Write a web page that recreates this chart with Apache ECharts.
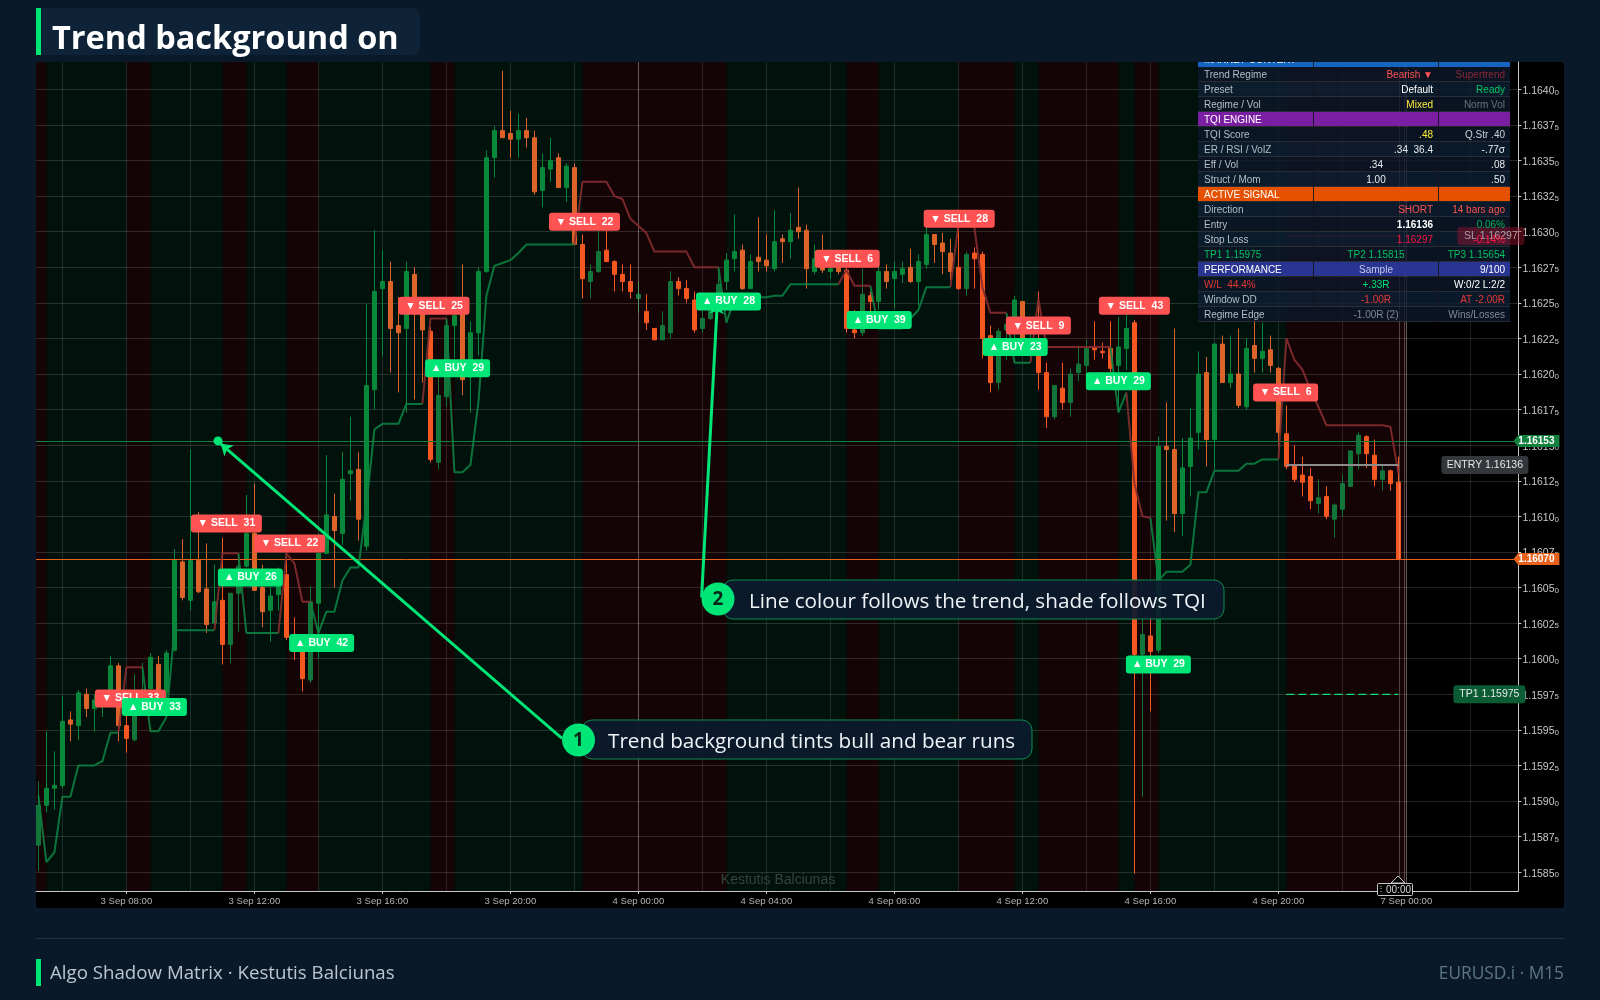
<!DOCTYPE html>
<html>
<head>
<meta charset="utf-8">
<title>Trend background on</title>
<script src="https://cdn.jsdelivr.net/npm/echarts@6/dist/echarts.min.js"></script>
<style>
html, body { margin: 0; padding: 0; background: #0a1929; }
#chart { width: 1600px; height: 1000px; }
</style>
</head>
<body>
<div id="chart"></div>
<script>
// M15 bars
var opens = [
1.15869,1.15897,1.15909,1.15911,1.15957,1.15953,1.15975,1.15965,1.15969,1.15977,
1.15995,1.15953,1.15943,1.15971,1.15979,1.15996,1.15976,1.16006,1.16068,1.16041,
1.16069,1.16049,1.16025,1.16041,1.16010,1.16046,1.16065,1.16088,1.16050,1.16034,
1.16045,1.16059,1.16015,1.16005,1.15985,1.16039,1.16074,1.16100,1.16088,1.16130,
1.16133,1.16079,1.16189,1.16260,1.16265,1.16234,1.16232,1.16270,1.16243,1.16230,
1.16138,1.16184,1.16234,1.16243,1.16198,1.16229,1.16272,1.16352,1.16371,1.16369,
1.16365,1.16371,1.16366,1.16329,1.16344,1.16352,1.16331,1.16345,1.16291,1.16265,
1.16272,1.16287,1.16279,1.16270,1.16265,1.16253,1.16244,1.16232,1.16224,1.16229,
1.16265,1.16260,1.16252,1.16232,1.16239,1.16245,1.16265,1.16281,1.16287,1.16260,
1.16282,1.16280,1.16274,1.16295,1.16293,1.16303,1.16301,1.16272,1.16275,1.16272,
1.16275,1.16273,1.16231,1.16229,1.16255,1.16251,1.16272,1.16267,1.16270,1.16275,
1.16265,1.16277,1.16298,1.16292,1.16285,1.16275,1.16260,1.16285,1.16284,1.16227,
1.16194,1.16231,1.16240,1.16251,1.16215,1.16215,1.16201,1.16170,1.16190,1.16180,
1.16201,1.16206,1.16219,1.16216,1.16218,1.16206,1.16218,1.16236,1.16003,1.16016,
1.16006,1.16149,1.16147,1.16102,1.16135,1.16159,1.16201,1.16154,1.16221,1.16194,
1.16200,1.16177,1.16220,1.16211,1.16217,1.16204,1.16158,1.16136,1.16129,1.16128,
1.16109,1.16114,1.16098,1.16105,1.16121,1.16144,1.16156,1.16143,1.16126,1.16132,
1.16124];
var closes = [
1.15897,1.15909,1.15911,1.15956,1.15954,1.15976,1.15965,1.15971,1.15972,1.15995,
1.15953,1.15944,1.15962,1.15978,1.16001,1.15977,1.16004,1.16069,1.16043,1.16069,
1.16047,1.16024,1.16040,1.16010,1.16046,1.16065,1.16088,1.16048,1.16033,1.16044,
1.16057,1.16015,1.16008,1.15986,1.16040,1.16074,1.16101,1.16090,1.16126,1.16132,
1.16098,1.16192,1.16258,1.16265,1.16232,1.16229,1.16272,1.16247,1.16231,1.16140,
1.16185,1.16234,1.16241,1.16196,1.16229,1.16272,1.16352,1.16371,1.16366,1.16365,
1.16371,1.16366,1.16328,1.16345,1.16350,1.16331,1.16346,1.16291,1.16267,1.16272,
1.16286,1.16279,1.16270,1.16265,1.16258,1.16256,1.16236,1.16224,1.16234,1.16265,
1.16260,1.16253,1.16231,1.16239,1.16245,1.16263,1.16280,1.16286,1.16260,1.16279,
1.16279,1.16276,1.16293,1.16293,1.16301,1.16300,1.16274,1.16281,1.16273,1.16274,
1.16272,1.16232,1.16229,1.16256,1.16251,1.16272,1.16265,1.16272,1.16274,1.16265,
1.16279,1.16298,1.16291,1.16286,1.16272,1.16260,1.16284,1.16281,1.16225,1.16194,
1.16230,1.16235,1.16252,1.16219,1.16220,1.16201,1.16170,1.16192,1.16180,1.16200,
1.16207,1.16218,1.16217,1.16215,1.16204,1.16219,1.16232,1.16003,1.16017,1.16005,
1.16149,1.16147,1.16102,1.16134,1.16155,1.16200,1.16154,1.16221,1.16194,1.16200,
1.16178,1.16218,1.16211,1.16216,1.16206,1.16159,1.16135,1.16126,1.16124,1.16111,
1.16113,1.16100,1.16108,1.16123,1.16146,1.16157,1.16144,1.16126,1.16132,1.16123,
1.16070];
var highs = [
1.15914,1.15949,1.15935,1.15974,1.15963,1.15978,1.15979,1.15975,1.15975,1.16002,
1.15997,1.15971,1.15989,1.15997,1.16004,1.16002,1.16006,1.16077,1.16084,1.16147,
1.16103,1.16081,1.16066,1.16085,1.16046,1.16074,1.16115,1.16123,1.16066,1.16050,
1.16064,1.16071,1.16029,1.16010,1.16051,1.16088,1.16143,1.16116,1.16145,1.16170,
1.16145,1.16249,1.16301,1.16287,1.16279,1.16254,1.16279,1.16275,1.16250,1.16233,
1.16198,1.16239,1.16245,1.16277,1.16237,1.16275,1.16357,1.16374,1.16413,1.16385,
1.16383,1.16380,1.16371,1.16355,1.16366,1.16355,1.16348,1.16348,1.16298,1.16277,
1.16301,1.16301,1.16280,1.16277,1.16277,1.16265,1.16256,1.16232,1.16244,1.16272,
1.16268,1.16266,1.16258,1.16250,1.16257,1.16275,1.16285,1.16312,1.16291,1.16284,
1.16310,1.16298,1.16315,1.16298,1.16313,1.16331,1.16305,1.16291,1.16298,1.16275,
1.16278,1.16275,1.16245,1.16274,1.16258,1.16275,1.16277,1.16279,1.16279,1.16288,
1.16284,1.16304,1.16298,1.16299,1.16295,1.16308,1.16286,1.16289,1.16286,1.16234,
1.16232,1.16241,1.16255,1.16251,1.16231,1.16258,1.16208,1.16192,1.16208,1.16204,
1.16220,1.16224,1.16237,1.16222,1.16237,1.16240,1.16252,1.16238,1.16029,1.16029,
1.16156,1.16180,1.16232,1.16155,1.16176,1.16216,1.16212,1.16222,1.16227,1.16227,
1.16232,1.16225,1.16238,1.16236,1.16227,1.16205,1.16178,1.16150,1.16142,1.16134,
1.16126,1.16121,1.16109,1.16129,1.16146,1.16159,1.16157,1.16154,1.16137,1.16133,
1.16142];
var lows = [
1.15851,1.15892,1.15894,1.15909,1.15942,1.15943,1.15959,1.15949,1.15959,1.15973,
1.15942,1.15934,1.15942,1.15966,1.15969,1.15971,1.15969,1.16005,1.16041,1.16034,
1.16046,1.16018,1.16024,1.15996,1.15997,1.16019,1.16064,1.16048,1.16022,1.16012,
1.16034,1.16013,1.15999,1.15977,1.15983,1.16000,1.16074,1.16050,1.16080,1.16111,
1.16083,1.16076,1.16175,1.16213,1.16201,1.16187,1.16173,1.16182,1.16194,1.16138,
1.16133,1.16177,1.16211,1.16185,1.16173,1.16213,1.16271,1.16338,1.16366,1.16352,
1.16352,1.16359,1.16326,1.16317,1.16335,1.16331,1.16321,1.16291,1.16253,1.16253,
1.16271,1.16279,1.16258,1.16258,1.16253,1.16243,1.16231,1.16224,1.16224,1.16225,
1.16255,1.16250,1.16229,1.16229,1.16238,1.16244,1.16259,1.16272,1.16259,1.16260,
1.16272,1.16272,1.16272,1.16278,1.16281,1.16295,1.16260,1.16270,1.16271,1.16267,
1.16270,1.16229,1.16225,1.16227,1.16238,1.16245,1.16260,1.16246,1.16264,1.16264,
1.16248,1.16274,1.16278,1.16270,1.16266,1.16259,1.16255,1.16260,1.16211,1.16187,
1.16189,1.16210,1.16217,1.16217,1.16208,1.16189,1.16162,1.16168,1.16175,1.16170,
1.16195,1.16196,1.16210,1.16211,1.16201,1.16173,1.16203,1.15849,1.15903,1.15963,
1.16004,1.16097,1.16089,1.16086,1.16114,1.16147,1.16135,1.16133,1.16194,1.16190,
1.16176,1.16175,1.16201,1.16201,1.16201,1.16149,1.16133,1.16124,1.16114,1.16105,
1.16102,1.16098,1.16085,1.16100,1.16121,1.16133,1.16134,1.16121,1.16118,1.16118,
1.16070];

// supertrend line, one value per bar
var supertrend = [
1.15904,1.15857,1.15864,1.15903,1.15903,1.15925,1.15925,1.15925,1.15928,1.15948,
1.15948,1.15994,1.15994,1.15994,1.15949,1.15949,1.15959,1.16020,1.16020,1.16020,
1.16020,1.16020,1.16020,1.16074,1.16074,1.16074,1.16018,1.16018,1.16018,1.16018,
1.16018,1.16074,1.16067,1.16040,1.16040,1.16018,1.16033,1.16033,1.16055,1.16064,
1.16064,1.16108,1.16161,1.16165,1.16165,1.16165,1.16179,1.16179,1.16179,1.16239,
1.16239,1.16239,1.16131,1.16131,1.16136,1.16180,1.16255,1.16276,1.16278,1.16280,
1.16285,1.16291,1.16291,1.16291,1.16291,1.16291,1.16291,1.16291,1.16335,1.16335,
1.16335,1.16335,1.16325,1.16323,1.16309,1.16304,1.16299,1.16286,1.16286,1.16286,
1.16286,1.16286,1.16275,1.16275,1.16275,1.16275,1.16236,1.16253,1.16253,1.16253,
1.16254,1.16254,1.16255,1.16255,1.16263,1.16263,1.16263,1.16263,1.16263,1.16263,
1.16263,1.16273,1.16262,1.16262,1.16262,1.16232,1.16232,1.16232,1.16232,1.16239,
1.16245,1.16261,1.16261,1.16261,1.16261,1.16305,1.16305,1.16303,1.16261,1.16243,
1.16243,1.16243,1.16208,1.16208,1.16208,1.16253,1.16219,1.16219,1.16219,1.16219,
1.16219,1.16219,1.16219,1.16219,1.16219,1.16173,1.16187,1.16123,1.16100,1.16099,
1.16055,1.16061,1.16061,1.16061,1.16066,1.16117,1.16117,1.16132,1.16132,1.16132,
1.16132,1.16137,1.16137,1.16140,1.16140,1.16140,1.16225,1.16210,1.16203,1.16189,
1.16177,1.16164,1.16164,1.16164,1.16164,1.16164,1.16164,1.16164,1.16164,1.16163,
1.16130];

// bear runs as [first bar, end bar]; everything else up to the last bar is bull
var bearRuns = [[-0.3,1],[11,14],[23,26],[31,35],[49,52],[68,86],[101,105],[115,122],[125,135],[137,140],[156,171]];
var bullRuns = [[1,11],[14,23],[26,31],[35,49],[52,68],[86,101],[105,115],[122,125],[135,137],[140,156]];

// axes
var yTicks = [1.1585,1.15875,1.159,1.15925,1.1595,1.15975,1.16,1.16025,1.1605,1.16075,1.161,1.16125,1.1615,1.16175,1.162,1.16225,1.1625,1.16275,1.163,1.16325,1.1635,1.16375,1.164];
var gridBars = [3,11,19,27,35,43,51,59,67,75,83,91,99,107,115,123,131,139,147,155,163,171,179];
var timeBars = [11,27,43,59,75,91,107,123,139,155,171];
var timeLabels = ['3 Sep 08:00','3 Sep 12:00','3 Sep 16:00','3 Sep 20:00','4 Sep 00:00','4 Sep 04:00','4 Sep 08:00','4 Sep 12:00','4 Sep 16:00','4 Sep 20:00','7 Sep 00:00'];
var sessionBars = [75,170.1,170.7,171];

// signal labels
var signalBars = [11.5,14.5,23.5,31.4,26.5,35.4,49.45,52.4,68.26,86.26,101.1,105.1,115.1,125,122.1,137,135,155.9,140];
var signalPrices = [1.15972,1.15966,1.16095,1.16081,1.16057,1.16011,1.16248,1.16204,1.16307,1.16251,1.16281,1.16238,1.16309,1.16234,1.16219,1.16248,1.16195,1.16187,1.15996];
var signalTexts = ['SELL  33','BUY  33','SELL  31','SELL  22','BUY  26','BUY  42','SELL  25','BUY  29','SELL  22','BUY  28','SELL  6','BUY  39','SELL  28','SELL  9','BUY  23','SELL  43','BUY  29','SELL  6','BUY  29'];

// trade levels
var lastTradeBars = [156,170];
var entryPrice = 1.16136;
var stopPrice = 1.16297;
var tp1Price = 1.15975;
var askPrice = 1.16153;
var lastPrice = 1.1607;

// callouts, from the circle to the point they talk about
var callout1From = [65.45,1.15944];
var callout1To = [22.8,1.16151];
var callout1Dot = [22.45,1.16153];
var callout2From = [82.9,1.16043];
var callout2To = [84.86,1.1625];
var callout1Text = 'Trend background tints bull and bear runs';
var callout2Text = 'Line colour follows the trend, shade follows TQI';

// dashboard table
var tableRows = [
  ['Trend Regime','Bearish ▼','Supertrend'],
  ['Preset','Default','Ready'],
  ['Regime / Vol','Mixed','Norm Vol'],
  ['TQI ENGINE','',''],
  ['TQI Score','.48','Q.Str .40'],
  ['ER / RSI / VolZ','.34  36.4','-.77σ'],
  ['Eff / Vol','.34','.08'],
  ['Struct / Mom','1.00','.50'],
  ['ACTIVE SIGNAL','',''],
  ['Direction','SHORT','14 bars ago'],
  ['Entry','1.16136','0.06%'],
  ['Stop Loss','1.16297','-0.14%'],
  ['TP1 1.15975','TP2 1.15815','TP3 1.15654'],
  ['PERFORMANCE','Sample','9/100'],
  ['W/L  44.4%','+.33R','W:0/2 L:2/2'],
  ['Window DD','-1.00R','AT -2.00R'],
  ['Regime Edge','-1.00R (2)','Wins/Losses']
];

var RED = '#ff5252', GREEN = '#00e676', SOFT = '#b4bec8', DIM = '#7d8a96';
var rowColours = [
  [SOFT,RED,'#8a2a36'],[SOFT,'#ffffff','#00c864'],[SOFT,'#ffeb3b','#66727e'],
  ['#ffffff','',''],
  [SOFT,'#ffeb3b','#c8d0d8'],[SOFT,'#e8ecf0','#e8ecf0'],[SOFT,'#e8ecf0','#e8ecf0'],[SOFT,'#e8ecf0','#e8ecf0'],
  ['#ffffff','',''],
  [SOFT,RED,RED],[SOFT,'#ffffff','#00b35a'],[SOFT,'#ff1744','#ff1744'],['#00c060','#00c060','#00c060'],
  ['#ffffff','#c5cae9','#ffffff'],
  ['#e53935','#00e676','#ffffff'],[SOFT,'#e53935','#e53935'],[SOFT,DIM,DIM]
];
var headerFills = {3:'#7b1fa2', 8:'#e65100', 13:'#283593'};
var middleCentred = [6,7,12,13,14,15,16];

var X_MIN = -0.3, X_MAX = 185;
var UI_FONT = '"Open Sans", "Noto Sans", sans-serif';
var CHART_FONT = '"Liberation Sans", Arial, sans-serif';

function isBear(i) {
  for (var k = 0; k < bearRuns.length; k++) {
    if (i >= bearRuns[k][0] && i < bearRuns[k][1]) return true;
  }
  return false;
}

// body is brighter when the bar agrees with the run it sits in
function candleSeries(wantBear, wantUp, colour) {
  var data = [];
  opens.forEach(function (o, i) {
    if (isBear(i) === wantBear && (closes[i] > o) === wantUp) {
      data.push([i, o, closes[i], lows[i], highs[i]]);
    }
  });
  return {
    type: 'candlestick', data: data, barWidth: 5, z: 2, silent: true,
    encode: { x: 0, y: [1, 2, 3, 4] },
    itemStyle: { color: colour, color0: colour, borderColor: colour, borderColor0: colour, borderWidth: 1 }
  };
}

// a run's line starts from the last point of the run before it
function trendPart(wantBear) {
  return supertrend.map(function (v, i) {
    var here = isBear(i) === wantBear;
    var next = i + 1 < supertrend.length && isBear(i + 1) === wantBear;
    return [i, here || next ? v : null];
  });
}

var signalData = signalBars.map(function (x, i) {
  var text = signalTexts[i];
  var sell = text.indexOf('SELL') === 0;
  var wide = sell && text.length > 7;
  return {
    value: [x, signalPrices[i]],
    label: {
      formatter: (sell ? '▼ ' : '▲ ') + text,
      backgroundColor: sell ? RED : GREEN,
      width: wide ? 71 : 65,
      height: 18
    }
  };
});

function priceTagItem(params, api) {
  var i = params.dataIndex;
  var p = api.coord([X_MAX, api.value(0)]);
  var y = p[1];
  var fill = i === 0 ? '#12803f' : '#e8621e';
  return {
    type: 'group',
    children: [
      { type: 'polygon', shape: { points: [[p[0] - 5, y], [p[0], y - 6], [p[0] + 41, y - 6], [p[0] + 41, y + 6], [p[0], y + 6]] }, style: { fill: fill } },
      { type: 'text', style: { x: p[0] + 18, y: y, text: api.value(0).toFixed(5), fill: '#ffffff', font: 'bold 10px ' + CHART_FONT, textAlign: 'center', textVerticalAlign: 'middle' } }
    ]
  };
}

var levelTags = [
  { price: entryPrice, text: 'ENTRY 1.16136', left: -77, width: 87, fill: '#33373c', color: '#e6e6e6' },
  { price: stopPrice, text: 'SL 1.16297', left: -61, width: 67, fill: 'rgba(170,20,50,0.42)', color: 'rgba(215,215,215,0.7)' },
  { price: tp1Price, text: 'TP1 1.15975', left: -65, width: 72, fill: '#0b5c34', color: '#e6e6e6' }
];

function levelTagItem(params, api) {
  var tag = levelTags[params.dataIndex];
  var p = api.coord([X_MAX, api.value(0)]);
  return {
    type: 'group',
    children: [
      { type: 'rect', shape: { x: p[0] + tag.left, y: p[1] - 9, width: tag.width, height: 18, r: 3 }, style: { fill: tag.fill } },
      { type: 'text', style: { x: p[0] + tag.left + tag.width / 2, y: p[1], text: tag.text, fill: tag.color, font: '10.5px ' + CHART_FONT, textAlign: 'center', textVerticalAlign: 'middle' } }
    ]
  };
}

function levelLine(price, style) {
  return {
    type: 'line', data: lastTradeBars.map(function (b) { return [b, price]; }),
    symbol: 'none', lineStyle: style, z: 3, silent: true, animation: false
  };
}

function sideMarkLine(value, colour) {
  return [{ coord: [X_MIN, value], lineStyle: { color: colour } }, { coord: [X_MAX, value] }];
}

// dashboard
function tableElements() {
  var left = 1198, right = 1510, col1 = 1313, col2 = 1438, top = 67, step = 15;
  var out = [
    { type: 'rect', z: 100, shape: { x: left, y: 52, width: right - left, height: 15 }, style: { fill: '#1565c0' } },
    { type: 'text', z: 100, style: { x: left + 6, y: 60, text: 'MARKET CONTEXT', fill: '#ffffff', font: '10px ' + CHART_FONT, textVerticalAlign: 'middle' } },
    { type: 'rect', z: 101, shape: { x: left, y: 50, width: right - left + 2, height: 12 }, style: { fill: '#0a1929' } }
  ];
  tableRows.forEach(function (row, r) {
    var y = top + r * step;
    var fill = headerFills[r] || (r % 2 ? 'rgba(14,32,54,0.8)' : 'rgba(12,24,42,0.8)');
    out.push({ type: 'rect', z: 100, shape: { x: left, y: y, width: right - left, height: step - (headerFills[r] ? 1 : 0) }, style: { fill: fill } });
    out.push({ type: 'line', z: 100, shape: { x1: left, y1: y + step - 0.5, x2: right, y2: y + step - 0.5 }, style: { stroke: 'rgba(60,60,60,0.6)', lineWidth: 1 } });
    var mid = y + step / 2 + 0.5;
    var centred = middleCentred.indexOf(r) >= 0;
    var bold = r === 10;
    [[left + 6, 'left'], [centred ? 1376 : 1433, centred ? 'center' : 'right'], [1505, 'right']].forEach(function (c, k) {
      if (!row[k]) return;
      // cell text stays above the SL tag
      out.push({ type: 'text', z: 120, style: {
        x: c[0], y: mid, text: row[k], fill: rowColours[r][k],
        font: (bold && k === 1 ? 'bold ' : '') + '10px ' + CHART_FONT,
        textAlign: c[1], textVerticalAlign: 'middle'
      } });
    });
  });
  [col1, col2].forEach(function (x) {
    out.push({ type: 'line', z: 100, shape: { x1: x + 0.5, y1: 62, x2: x + 0.5, y2: 322 }, style: { stroke: 'rgba(20,20,30,0.9)', lineWidth: 1 } });
  });
  return out;
}

function calloutElements(num, cx, cy, boxX, boxY, boxW, text, textX) {
  return [
    { type: 'rect', z: 90, shape: { x: boxX, y: boxY, width: boxW, height: 39, r: 10 }, style: { fill: 'rgba(12,27,46,0.92)', stroke: '#0e8a50', lineWidth: 1 } },
    { type: 'text', z: 91, style: { x: textX, y: boxY + 22.5, text: text, fill: '#eef3f7', font: '20.7px ' + UI_FONT, textVerticalAlign: 'middle' } },
    { type: 'circle', z: 92, shape: { cx: cx, cy: cy, r: 16.5 }, style: { fill: GREEN } },
    { type: 'text', z: 93, style: { x: cx, y: cy + 1, text: num, fill: '#06281a', font: 'bold 19px ' + UI_FONT, textAlign: 'center', textVerticalAlign: 'middle' } }
  ];
}

var graphics = [
  // panels
  { type: 'rect', z: -10, shape: { x: 36, y: 62, width: 1528, height: 846, r: 3 }, style: { fill: '#000000' } },
  { type: 'rect', z: -10, shape: { x: 36, y: 8, width: 384, height: 47, r: 8 }, style: { fill: '#0f2338' } },
  { type: 'rect', z: -9, shape: { x: 36, y: 8, width: 5, height: 47 }, style: { fill: GREEN } },
  // time cursor tag on the axis
  { type: 'polygon', z: 20, shape: { points: [[1391, 883], [1398, 876], [1405, 883]] }, style: { fill: '#000000', stroke: '#c8c8c8', lineWidth: 1 } },
  { type: 'rect', z: 20, shape: { x: 1377.5, y: 883.5, width: 35, height: 12, r: 1 }, style: { fill: '#000000', stroke: '#c8c8c8', lineWidth: 1 } },
  { type: 'text', z: 21, style: { x: 1381, y: 889, text: '⋮', fill: '#d8d8d8', font: '8px ' + CHART_FONT, textAlign: 'center', textVerticalAlign: 'middle' } },
  { type: 'text', z: 21, style: { x: 1398.5, y: 890, text: '00:00', fill: '#d8d8d8', font: '10px ' + CHART_FONT, textAlign: 'center', textVerticalAlign: 'middle' } },
  // watermark
  { type: 'text', z: 4, style: { x: 778, y: 880, text: 'Kestutis Balciunas', fill: '#35443d', font: '14px ' + CHART_FONT, textAlign: 'center', textVerticalAlign: 'middle' } },
  // footer
  { type: 'line', shape: { x1: 36, y1: 938.5, x2: 1564, y2: 938.5 }, style: { stroke: '#1b3450', lineWidth: 1 } },
  { type: 'rect', shape: { x: 36, y: 959, width: 5, height: 27 }, style: { fill: GREEN } },
  { type: 'text', style: { x: 50, y: 974, text: 'Algo Shadow Matrix · Kestutis Balciunas', fill: '#b9c6d2', font: '18.7px ' + UI_FONT, textVerticalAlign: 'middle' } },
  { type: 'text', style: { x: 1564, y: 974, text: 'EURUSD.i · M15', fill: '#5d7689', font: '17.3px ' + UI_FONT, textAlign: 'right', textVerticalAlign: 'middle' } }
].concat(
  calloutElements('1', 578.5, 740, 582, 720, 450, callout1Text, 608),
  calloutElements('2', 718, 599, 723, 580, 501, callout2Text, 749),
  tableElements()
);

var chart = echarts.init(document.getElementById('chart'));
chart.setOption({
  backgroundColor: '#0a1929',
  animation: false,
  title: {
    text: 'Trend background on', left: 52, top: 23, padding: 0,
    textStyle: { color: '#ffffff', fontSize: 32.5, fontWeight: 'bold', fontFamily: UI_FONT }
  },
  graphic: graphics,
  grid: { left: 36, top: 62, width: 1482.4, height: 829, show: false },
  xAxis: [
    {
      type: 'value', min: X_MIN, max: X_MAX, position: 'bottom',
      axisLine: { show: false },
      axisTick: { show: false, customValues: gridBars },
      axisLabel: { show: false },
      splitLine: { show: true, lineStyle: { color: 'rgba(255,255,255,0.12)', width: 1 } }
    },
    {
      type: 'value', min: X_MIN, max: X_MAX, position: 'bottom',
      axisLine: { show: true, onZero: false, lineStyle: { color: '#c8c8c8', width: 1 } },
      axisTick: { show: true, length: 3, inside: false, lineStyle: { color: '#c8c8c8' }, customValues: timeBars },
      axisLabel: {
        show: true, margin: 5, color: '#b4b4b4', fontSize: 9.6, fontFamily: CHART_FONT,
        customValues: timeBars,
        formatter: function (v) { return timeLabels[timeBars.indexOf(v)] || ''; }
      },
      splitLine: { show: false }
    }
  ],
  yAxis: {
    type: 'value', min: 1.158368, max: 1.164192, position: 'right', scale: true,
    axisLine: { show: true, onZero: false, lineStyle: { color: '#c8c8c8', width: 1 } },
    axisTick: { show: true, length: 3, lineStyle: { color: '#c8c8c8' }, customValues: yTicks },
    axisLabel: {
      show: true, margin: 4, customValues: yTicks,
      formatter: function (v) {
        var s = v.toFixed(5);
        return '{a|' + s.slice(0, 6) + '}{b|' + s.slice(6) + '}';
      },
      rich: {
        a: { color: '#c8c8c8', fontSize: 10.5, fontFamily: CHART_FONT, padding: [3, 0, 0, 0] },
        b: { color: '#c8c8c8', fontSize: 8, fontFamily: CHART_FONT, verticalAlign: 'bottom', padding: [5, 0, 0, 0] }
      }
    },
    splitLine: { show: true, lineStyle: { color: 'rgba(255,245,240,0.15)', width: 1 } }
  },
  series: [
    {
      // run tints, session lines and price lines
      type: 'line', data: [], silent: true, z: 1,
      markArea: {
        silent: true, z: 1,
        data: bearRuns.map(function (r) {
          return [{ xAxis: r[0], itemStyle: { color: 'rgba(255,50,60,0.08)' } }, { xAxis: r[1] }];
        }).concat(bullRuns.map(function (r) {
          return [{ xAxis: r[0], itemStyle: { color: 'rgba(0,255,150,0.072)' } }, { xAxis: r[1] }];
        }))
      },
      markLine: {
        silent: true, symbol: 'none', z: 3, animation: false,
        label: { show: false },
        lineStyle: { type: 'solid', width: 1, opacity: 1 },
        data: sessionBars.map(function (b) {
          return { xAxis: b, lineStyle: { color: 'rgba(255,235,235,0.28)' } };
        }).concat([
          sideMarkLine(askPrice, '#12803f'),
          sideMarkLine(lastPrice, '#e8621e')
        ])
      }
    },
    levelLine(stopPrice, { color: 'rgba(190,30,60,0.6)', width: 1.5 }),
    candleSeries(false, true, '#07883a'),
    candleSeries(false, false, '#dc6429'),
    candleSeries(true, true, '#12763a'),
    candleSeries(true, false, '#f4571f'),
    {
      type: 'line', data: trendPart(false), symbol: 'none', connectNulls: false, z: 3, silent: true,
      lineStyle: { color: '#0c7f42', width: 2, opacity: 0.9 }
    },
    {
      type: 'line', data: trendPart(true), symbol: 'none', connectNulls: false, z: 3, silent: true,
      lineStyle: { color: '#852c30', width: 2, opacity: 0.9 }
    },
    levelLine(entryPrice, { color: '#8c8c8c', width: 2 }),
    levelLine(tp1Price, { color: GREEN, width: 1.3, type: [8, 4] }),
    {
      type: 'scatter', data: signalData, symbolSize: 0, z: 5, silent: true,
      itemStyle: { opacity: 1 },
      label: {
        show: true, position: 'inside', color: '#ffffff', fontSize: 10.5, fontWeight: 'bold',
        fontFamily: CHART_FONT, borderRadius: 3, align: 'center', verticalAlign: 'middle', lineHeight: 18
      }
    },
    {
      type: 'custom', renderItem: priceTagItem, data: [[askPrice], [lastPrice]],
      encode: { y: 0 }, z: 6, silent: true, clip: false
    },
    {
      // sits over the dashboard, the SL tag shows across it
      type: 'custom', renderItem: levelTagItem, data: levelTags.map(function (t) { return [t.price]; }),
      encode: { y: 0 }, z: 110, silent: true, clip: false
    },
    {
      // callout leaders
      type: 'scatter', data: [callout1Dot], symbolSize: 9, z: 8, silent: true,
      itemStyle: { color: GREEN, opacity: 1 },
      markLine: {
        silent: true, z: 8, animation: false, label: { show: false },
        lineStyle: { color: GREEN, width: 3, type: 'solid', opacity: 1 },
        data: [
          [{ coord: callout1From, symbol: 'none' }, { coord: callout1To, symbol: 'arrow', symbolSize: 11 }],
          [{ coord: callout2From, symbol: 'none' }, { coord: callout2To, symbol: 'arrow', symbolSize: 11 }]
        ]
      }
    }
  ]
});
</script>
</body>
</html>
